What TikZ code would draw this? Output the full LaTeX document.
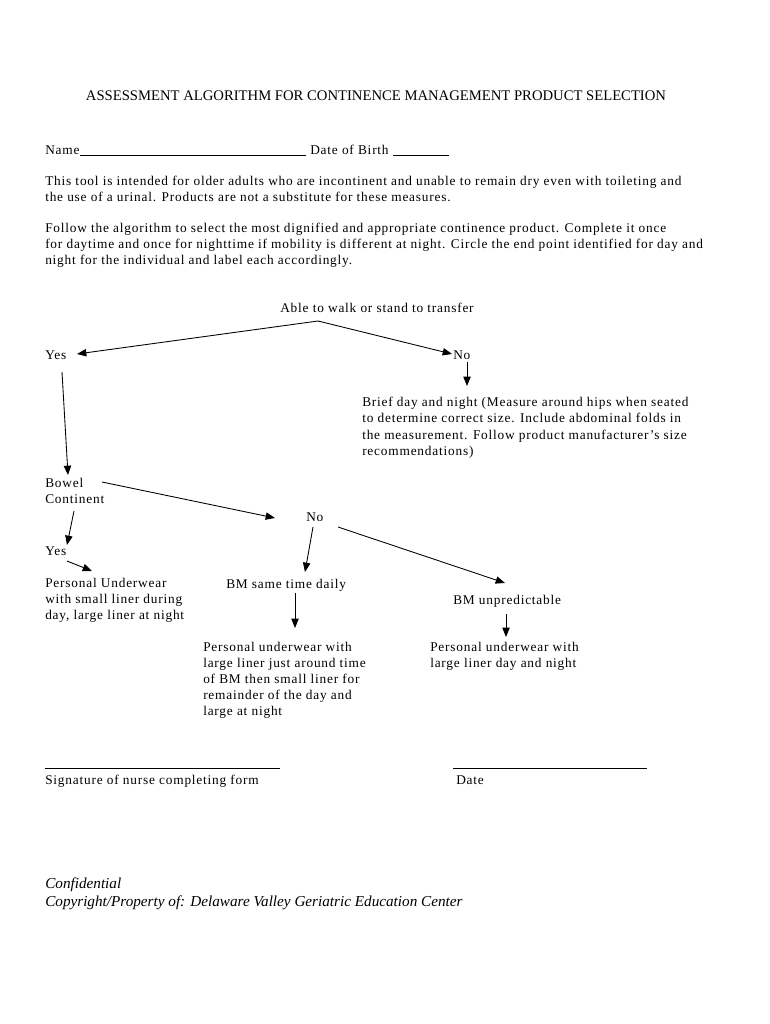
\documentclass[tikz,border=0pt]{standalone}
\usepackage{fontspec}
\setmainfont{Liberation Serif}
\newfontfamily\bodyfont[LetterSpace=6]{Liberation Serif}
\usetikzlibrary{arrows.meta,calc}
\begin{document}
\begin{tikzpicture}[x=0.75pt,y=-0.75pt,
  t/.style={anchor=base west,inner sep=0pt,font=\bodyfont\fontsize{10}{12}\selectfont},
  tc/.style={anchor=base,inner sep=0pt,font=\bodyfont\fontsize{10}{12}\selectfont},
  it/.style={anchor=base west,inner sep=0pt,font=\fontsize{11.4}{14}\selectfont\itshape},
  arr/.style={-{Triangle[length=7pt,width=5.5pt]},line width=0.65pt}]
\useasboundingbox[fill=white] (0,0) rectangle (770,1024);
% title
\node[anchor=base,inner sep=0pt,font=\fontsize{11}{13}\selectfont] (title) at (376,100) {ASSESSMENT ALGORITHM FOR CONTINENCE MANAGEMENT PRODUCT SELECTION};
\node[t] (name) at (45,154) {Name\rule[-1pt]{170pt}{0.4pt} Date of Birth \rule[-1pt]{42pt}{0.4pt}};
\node[t] (p1a) at (45,185) {This tool is intended for older adults who are incontinent and unable to remain dry even with toileting and};
\node[t] (p1b) at (45,201) {the use of a urinal. Products are not a substitute for these measures.};
\node[t] (p2a) at (45,232) {Follow the algorithm to select the most dignified and appropriate continence product. Complete it once};
\node[t] (p2b) at (45,248) {for daytime and once for nighttime if mobility is different at night. Circle the end point identified for day and};
\node[t] (p2c) at (45,264) {night for the individual and label each accordingly.};
% flow
\node[tc] (able) at (377,312) {Able to walk or stand to transfer};
\node[t] (yes1) at (45,359) {Yes};
\node[t] (no1) at (453,359) {No};
\node[t] (brief1) at (362,406) {Brief day and night (Measure around hips when seated};
\node[t] (brief2) at (362,422) {to determine correct size. Include abdominal folds in};
\node[t] (brief3) at (362,439) {the measurement. Follow product manufacturer’s size};
\node[t] (brief4) at (362,455) {recommendations)};
\node[t] (bowel1) at (45,487) {Bowel};
\node[t] (bowel2) at (45,503) {Continent};
\node[t] (no2) at (306,521) {No};
\node[t] (yes2) at (45,555) {Yes};
\node[t] (pu1) at (45,587) {Personal Underwear};
\node[t] (pu2) at (45,603) {with small liner during};
\node[t] (pu3) at (45,619) {day, large liner at night};
\node[t] (bms) at (226,588) {BM same time daily};
\node[t] (bmu) at (453,604) {BM unpredictable};
\node[t] (q1) at (203,651) {Personal underwear with};
\node[t] (q2) at (203,667) {large liner just around time};
\node[t] (q3) at (203,683) {of BM then small liner for};
\node[t] (q4) at (203,699) {remainder of the day and};
\node[t] (q5) at (203,715) {large at night};
\node[t] (r1) at (430,651) {Personal underwear with};
\node[t] (r2) at (430,667) {large liner day and night};
% arrows
\coordinate (apex) at ($(able.base)+(-59,9)$);
\draw[arr] (apex) -- ($(yes1.base west)+(32,-5)$);
\draw[arr] (apex) -- ($(no1.base west)+(-1,-5)$);
\draw[arr] ($(no1.base west)+(14,3)$) -- ($(no1.base west)+(14,27)$);
\draw[arr] ($(yes1.base west)+(17,13)$) -- ($(bowel1.base west)+(23,-12)$);
\draw[arr] ($(bowel1.base west)+(57,-5)$) -- ($(no2.base west)+(-31,-3)$);
\draw[arr] ($(bowel2.base west)+(29,8)$) -- ($(yes2.base west)+(22,-10)$);
\draw[arr] ($(yes2.base west)+(22,6)$) -- ($(pu1.base west)+(47,-16)$);
\draw[arr] ($(no2.base west)+(7,6)$) -- ($(bms.base west)+(79,-16)$);
\draw[arr] ($(no2.base west)+(32,6)$) -- ($(bmu.base west)+(52,-21)$);
\draw[arr] ($(bms.base west)+(69,5)$) -- ($(q1.base west)+(92,-23)$);
\draw[arr] ($(bmu.base west)+(53,10)$) -- ($(r1.base west)+(76,-14)$);
% signature
\node[t] (sigline) at (45,767) {\rule[-1pt]{176pt}{0.4pt}};
\node[t] (sig) at (45,784) {Signature of nurse completing form};
\node[t] (dateline) at (453,767) {\rule[-1pt]{145pt}{0.4pt}};
\node[t] (date) at (456,784) {Date};
\node[it] (conf) at (45,888) {Confidential};
\node[it] (copy) at (45,906) {Copyright/Property of: Delaware Valley Geriatric Education Center};
\end{tikzpicture}
\end{document}
